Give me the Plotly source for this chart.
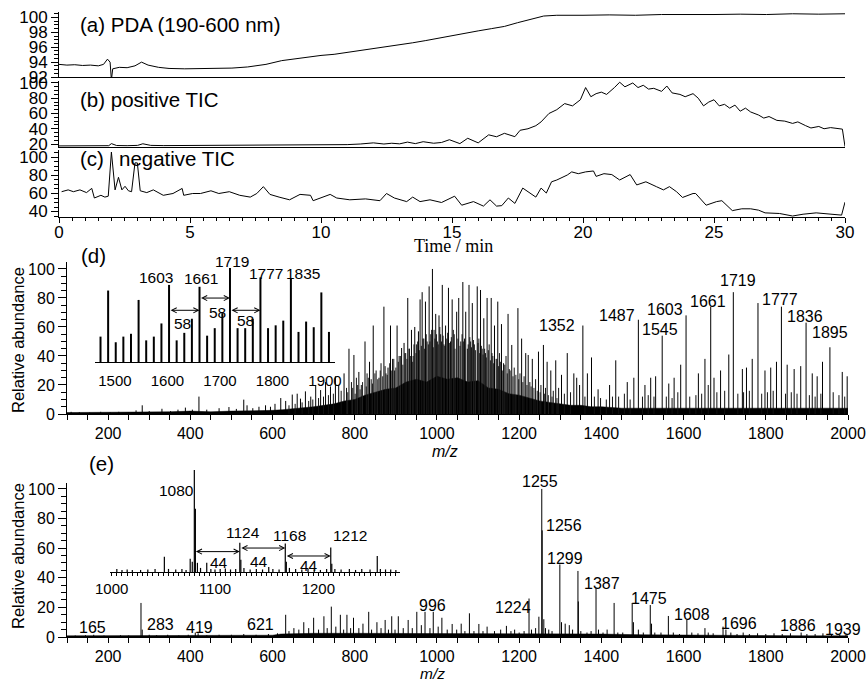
import plotly.graph_objects as go

W, H = 866, 682
FONT = "Liberation Sans, Arial, sans-serif"
SERIF = "Liberation Serif, Times New Roman, serif"

# ---------------- (a) PDA ----------------
pda_t = [0.0, 0.3, 0.6, 0.9, 1.2, 1.5, 1.7, 1.85, 1.95, 2.0,
         2.05, 2.3, 2.6, 2.9, 3.15, 3.4, 3.8, 4.2, 4.8, 5.4,
         6.0, 6.6, 7.2, 7.9, 8.5, 9.1, 9.6, 10.0, 10.5, 11.0,
         11.5, 12.0, 12.5, 13.0, 13.5, 14.0, 14.5, 15.0, 15.5, 16.0,
         16.5, 17.0, 17.5, 18.0, 18.5, 19.0, 19.5, 20.0, 21.0, 22.0,
         23.0, 24.0, 25.0, 26.0, 27.0, 28.0, 29.0, 30.0]
pda_v = [93.7, 93.6, 93.65, 93.55, 93.6, 93.5, 93.7, 94.4, 94.0, 91.6,
         93.1, 93.3, 93.25, 93.5, 94.0, 93.6, 93.3, 93.15, 93.1, 93.15,
         93.1, 93.2, 93.35, 93.7, 94.2, 94.5, 94.7, 94.9, 95.05, 95.3,
         95.5, 95.8, 96.05, 96.3, 96.6, 96.9, 97.25, 97.6, 97.9, 98.2,
         98.5, 98.8, 99.3, 99.8, 100.2, 100.3, 100.25, 100.3, 100.35, 100.3,
         100.4, 100.35, 100.4, 100.45, 100.4, 100.5, 100.45, 100.5]

# ---------------- (b) positive TIC ----------------
pos_t = [0.0, 0.5, 1.0, 1.5, 1.9, 2.0, 2.2, 2.6, 3.0, 3.2,
         3.5, 4.0, 4.5, 5.0, 5.5, 6.0, 6.5, 7.0, 7.5, 8.0,
         8.4, 9.0, 9.5, 10.0, 10.5, 11.0, 11.5, 12.0, 12.4, 12.7,
         13.0, 13.3, 13.6, 13.9, 14.3, 14.6, 14.9, 15.3, 15.6, 16.0,
         16.4, 16.7, 17.0, 17.4, 17.6, 17.9, 18.2, 18.4, 18.7, 19.0,
         19.3, 19.6, 19.9, 20.1, 20.3, 20.5, 20.7, 20.9, 21.2, 21.4,
         21.6, 21.9, 22.1, 22.3, 22.5, 22.7, 23.0, 23.2, 23.4, 23.7,
         23.9, 24.2, 24.4, 24.6, 24.8, 25.0, 25.2, 25.4, 25.6, 25.8,
         26.0, 26.2, 26.4, 26.7, 26.9, 27.1, 27.4, 27.7, 28.0, 28.2,
         28.5, 28.7, 29.0, 29.2, 29.45, 29.7, 29.9, 30.0]
pos_v = [17.5, 17.6, 17.4, 17.6, 17.8, 20.5, 18.0, 17.8, 18.2, 20.3,
         18.2, 17.9, 18.0, 17.8, 18.1, 18.0, 18.3, 18.1, 18.4, 18.3,
         18.7, 18.5, 19.2, 18.8, 19.5, 19.2, 20.0, 21.5, 20.0, 21.0,
         20.2, 22.5, 20.5, 23.0, 21.0, 22.0, 25.6, 20.5, 27.5, 21.5,
         32.0, 29.5, 34.0, 29.6, 38.0, 40.0, 44.0, 49.0, 60.0, 65.0,
         73.0, 70.0, 78.0, 94.0, 82.0, 86.0, 88.0, 85.0, 94.0, 101.0,
         95.0, 100.0, 94.0, 97.0, 92.0, 93.0, 89.0, 96.0, 87.0, 85.0,
         82.0, 86.0, 80.0, 70.0, 75.0, 78.0, 70.0, 72.0, 67.0, 71.0,
         63.0, 67.0, 62.0, 58.0, 54.0, 56.0, 51.0, 50.0, 47.0, 49.0,
         44.0, 41.0, 43.0, 40.0, 41.5, 40.0, 39.5, 16.5]

# ---------------- (c) negative TIC ----------------
neg_t = [0.1, 0.35, 0.55, 0.8, 1.05, 1.25, 1.35, 1.6, 1.75, 1.88,
         2.0, 2.14, 2.27, 2.4, 2.52, 2.65, 2.77, 2.9, 2.99, 3.1,
         3.35, 3.6, 3.98, 4.35, 4.7, 4.76, 5.1, 5.4, 5.8, 6.1,
         6.5, 6.9, 7.3, 7.55, 7.8, 8.05, 8.4, 8.8, 9.2, 9.6,
         9.7, 10.1, 10.35, 10.6, 11.1, 11.7, 12.25, 12.5, 12.8, 13.27,
         13.5, 13.78, 14.16, 14.6, 15.1, 15.37, 15.82, 16.2, 16.45, 16.7,
         16.9, 17.15, 17.4, 17.7, 17.98, 18.2, 18.4, 18.6, 18.8, 19.0,
         19.4, 19.57, 19.82, 20.1, 20.4, 20.5, 20.8, 21.1, 21.4, 21.8,
         22.05, 22.4, 22.8, 23.07, 23.3, 23.57, 23.8, 24.2, 24.3, 24.7,
         25.1, 25.3, 25.7, 26.06, 26.4, 26.7, 26.95, 27.5, 28.0, 28.4,
         28.9, 29.4, 29.87, 30.0]
neg_v = [62, 64, 62, 64, 61, 65.7, 55, 58, 56, 57,
         106, 64, 78, 64, 68, 63, 62, 94, 94, 63,
         61, 64, 58, 60, 65.6, 58, 60, 60, 63, 60,
         62, 58, 56, 60, 67.6, 59, 56, 53, 59, 58,
         52, 56, 59, 55, 53, 54, 52, 60, 55, 51,
         56, 51, 53, 50, 57, 47, 51, 46, 53, 46,
         46.5, 55, 49, 66, 60.5, 56, 66, 60.5, 73, 75,
         80.5, 84, 82, 84, 85, 79, 82, 81, 75, 81,
         69.5, 73, 67.6, 64, 67.6, 62, 55.6, 60, 60, 47,
         51, 52, 41, 43, 43, 41.5, 38.5, 37.8, 35, 37,
         38.5, 37, 36, 50.4]

# ---------------- (d) positive mass spectrum ----------------
d_mz = [110, 130, 155, 182, 205, 226, 250, 268, 283, 300,
        331, 352, 370, 388, 405, 421, 440, 470, 494, 512,
        530, 538, 552, 567, 583, 595, 606, 620, 632, 648,
        660, 668, 680, 693, 705, 717, 729, 741, 753, 761,
        774, 786, 798, 810, 825, 836, 845, 859, 871, 881,
        887, 903, 914, 920, 929, 938, 946, 955, 959, 964,
        972, 981, 989, 997, 1005, 1013, 1021, 1028, 1037, 1048,
        1053, 1063, 1070, 1078, 1086, 1098, 1106, 1114, 1122, 1132,
        1140, 1148, 1157, 1173, 1182, 1197, 1206, 1216, 1222, 1232,
        1247, 1259, 1268, 1277, 1289, 1303, 1317, 1333, 1340, 1347,
        1355, 1366, 1376, 1392, 1420, 1435, 1463, 1479, 1490, 1506,
        1520, 1532, 1548, 1564, 1577, 1593, 1606, 1636, 1652, 1666,
        1674, 1690, 1710, 1721, 1743, 1753, 1767, 1781, 1798, 1812,
        1826, 1838, 1852, 1869, 1885, 1898, 1913, 1925, 1938, 1956,
        1986, 1998]
d_int = [1.5, 1.2, 1, 1.5, 1.2, 1.5, 1, 2.5, 6, 2,
         3.6, 2, 3, 4.4, 3, 12, 3, 4, 4.8, 3.5,
         9.9, 6, 4, 5, 6, 5, 7, 11, 9, 13.4,
         14, 10.6, 15.6, 12, 20, 16.5, 22, 19, 26, 20,
         28, 45, 40.7, 29, 50, 36, 61, 25, 74, 32,
         61, 61, 45.5, 49, 80, 58, 60, 57, 79, 84,
         77.5, 88, 100, 69, 68, 89, 61, 87, 79, 70.5,
         80, 91, 70.5, 89, 76.5, 88, 85.5, 66, 80, 80,
         61, 77.5, 62, 69, 47.6, 73, 52, 42, 40.7, 38,
         43, 47.6, 36, 30, 37, 27, 42, 28, 25, 20,
         61, 28, 39, 17, 20, 37, 22, 25, 65, 20,
         25, 26, 54, 21, 25, 34, 68, 28, 38, 74,
         25, 30, 41, 84, 31, 32, 38, 76.5, 30, 32,
         36, 74, 34, 31, 33, 63, 28, 26, 36, 46,
         29, 26]
d_minor_mz = [640, 655, 672, 688, 698, 712, 724, 736, 748, 767,
              780, 792, 804, 816, 830, 840, 852, 864, 876, 892,
              897, 908, 924, 933, 942, 950, 968, 976, 985, 993,
              1001, 1009, 1017, 1024, 1033, 1042, 1058, 1067, 1074, 1082,
              1091, 1102, 1110, 1118, 1127, 1136, 1144, 1152, 1162, 1168,
              1178, 1188, 1202, 1212, 1226, 1240, 1253, 1264, 1283, 1296,
              1310, 1325, 1360, 1383, 1398, 1412, 1427, 1442, 1456, 1470,
              1500, 1514, 1528, 1558, 1572, 1586, 1615, 1630, 1644, 1660,
              1681, 1700, 1732, 1746, 1760, 1790, 1804, 1818, 1848, 1862,
              1876, 1906, 1920, 1934, 1964, 1978, 1992]
d_minor_int = [6, 7, 8, 9, 10, 11, 12, 13, 14, 16,
               18, 22, 25, 20, 28, 24, 30, 35, 28, 38,
               30, 40, 42, 45, 40, 48, 52, 50, 55, 58,
               50, 55, 48, 52, 50, 55, 50, 52, 45, 50,
               48, 52, 45, 42, 48, 40, 38, 42, 35, 40,
               30, 32, 28, 26, 22, 24, 20, 18, 16, 18,
               14, 15, 12, 12, 11, 10, 12, 12, 14, 10,
               12, 13, 12, 12, 11, 15, 12, 13, 14, 20,
               15, 16, 14, 15, 16, 14, 15, 16, 14, 15,
               14, 13, 12, 14, 15, 13, 12]
d_extra_mz = [783, 795, 801, 807, 813, 819, 828, 833, 843, 849,
              856, 862, 868, 874, 879, 885, 890, 895, 900, 906,
              911, 917, 922, 927, 932, 936, 941, 944, 949, 953,
              957, 962, 966, 970, 974, 979, 983, 987, 991, 995,
              999, 1003, 1007, 1011, 1015, 1019, 1026, 1031, 1035, 1040,
              1044, 1051, 1056, 1061, 1065, 1076, 1080, 1084, 1089, 1094,
              1100, 1104, 1108, 1112, 1116, 1120, 1125, 1130, 1134, 1138,
              1146, 1150, 1155, 1160, 1165, 1171, 1176, 1185, 1192, 1199,
              1209, 1219, 1229, 1236, 1244, 1251, 1262, 1271, 1280, 1292]
d_extra_int = [15, 18, 14, 20, 17, 22, 19, 25, 21, 28,
               24, 30, 26, 33, 27, 35, 30, 38, 32, 36,
               40, 34, 42, 38, 45, 40, 36, 48, 42, 50,
               44, 47, 52, 45, 55, 48, 50, 58, 46, 52,
               55, 48, 60, 50, 54, 47, 56, 49, 53, 58,
               45, 52, 47, 55, 50, 48, 53, 46, 51, 44,
               49, 42, 47, 41, 45, 39, 44, 37, 42, 35,
               38, 33, 36, 30, 34, 28, 31, 26, 27, 24,
               22, 20, 19, 18, 16, 15, 14, 13, 12, 11]
d_env_mz = [100, 150, 200, 250, 300, 350, 400, 450, 500, 550,
            600, 625, 650, 675, 700, 725, 750, 775, 800,
            825, 850, 875, 900, 925, 950, 975, 1000, 1025, 1050,
            1075, 1100, 1125, 1150, 1175, 1200, 1225, 1250, 1275, 1300,
            1325, 1350, 1375, 1400,
            1450, 1500, 1550, 1600, 1650, 1700, 1750, 1800, 1850, 1900, 1950, 2000]
d_env_int = [1, 1, 1, 1, 1.5, 1.5, 2, 1.5, 2, 2,
             2.5, 3, 3.5, 4, 5, 6, 7, 9, 10,
             13, 15, 17, 18, 22, 24, 22, 26, 24, 25,
             22, 23, 18, 17, 14, 13, 11, 9, 8, 7,
             6, 6, 5, 5,
             4, 4, 4, 4, 4, 4, 4, 4, 4, 4, 4, 4]
# inset of (d)
d_ins_mz = [1472.5, 1487, 1501.5, 1516, 1530.5, 1545, 1559.5, 1574, 1588.5, 1603,
            1617.5, 1632, 1646.5, 1661, 1675.5, 1690, 1704.5, 1719, 1733.5, 1748,
            1762.5, 1777, 1791.5, 1806, 1820.5, 1835, 1849.5, 1864, 1878.5, 1893, 1907.5]
d_ins_int = [27, 76, 21, 27, 30, 66, 23, 27, 41, 82,
             23, 31, 46, 80, 28, 36, 52, 100, 36, 36,
             46, 90, 36, 39, 44, 89, 32, 43, 37, 74, 32]
d_arrow_from = [1603, 1661, 1719]
d_arrow_to = [1661, 1719, 1777]
d_arrow_level = [55, 68, 55]

# ---------------- (e) negative mass spectrum ----------------
e_mz = [120, 145, 165, 190, 230, 250, 280, 283, 300, 318,
        345, 372, 395, 412, 419, 440, 470, 500, 530, 560,
        590, 612, 632, 640, 652, 664, 676, 688, 700, 712,
        725, 733, 743, 754, 765, 773, 781, 790, 797, 810,
        820, 834, 841, 854, 864, 874, 882, 890, 898, 906,
        918, 930, 940, 951, 962, 971, 983, 991, 1003, 1012,
        1025, 1037, 1048, 1059, 1068, 1079, 1090, 1102, 1112, 1122,
        1140, 1155, 1169, 1180, 1189, 1200, 1212, 1224, 1230, 1240,
        1248, 1255, 1256, 1260, 1264, 1272, 1280, 1299, 1303, 1312,
        1322, 1330, 1343, 1344, 1350, 1365, 1375, 1387, 1393, 1404,
        1414, 1431, 1440, 1452, 1475, 1478, 1490, 1502, 1519, 1522,
        1530, 1545, 1563, 1575, 1590, 1608, 1620, 1635, 1652, 1660,
        1672, 1696, 1703, 1715, 1730, 1745, 1760, 1780, 1800, 1820,
        1840, 1860, 1886, 1900, 1920, 1939, 1960, 1980, 1995]
e_int = [1, 1.2, 1.5, 1, 1.2, 1, 23, 5, 1.5, 1.2,
         1.5, 1, 1.5, 3, 2.5, 1.2, 1.5, 1.5, 2, 1.5,
         2, 2.5, 15, 4, 6, 5, 10, 6, 13, 5,
         14, 6, 20.5, 7, 15, 5, 15, 6, 13, 6,
         9, 17, 5, 10, 6, 11.5, 5, 14, 5, 14,
         6, 11.5, 6, 17, 8, 17, 6, 17, 7, 13,
         5, 8.8, 5, 9, 4, 16, 4, 8.8, 4, 7,
         4, 5, 7.5, 4, 5, 3, 4, 26, 5, 6,
         13.7, 100, 72, 12, 6, 5, 4, 49, 10, 9,
         8, 5, 44.6, 24, 4, 3, 4, 33, 5, 3,
         5, 23, 3, 3, 23, 10, 5, 3, 21.6, 9,
         3, 3, 14.2, 3, 2, 11.5, 3, 2.5, 6, 3,
         2.5, 7, 5, 3, 2, 3, 2, 2.5, 2, 2.5,
         2, 2.5, 3, 2, 2, 2.5, 1.5, 1.5, 1.5]
e_env_mz = [100, 200, 300, 400, 500, 600, 620, 700, 800, 900,
            1000, 1100, 1200, 1300, 1400, 1500, 1600, 1700, 1800, 1900, 2000]
e_env_int = [0.8, 0.8, 1, 1, 1, 1.2, 2, 2.5, 2.5, 2.5,
             2.5, 2, 2, 2.5, 2, 1.5, 1.2, 1, 1, 0.8, 0.8]
# inset of (e)
e_ins_mz = [1005, 1010, 1015, 1020, 1028, 1035, 1042, 1051, 1055, 1062,
            1068, 1072, 1076, 1078, 1080, 1081, 1083, 1086, 1092, 1096,
            1100, 1105, 1110, 1115, 1120, 1124, 1125, 1128, 1134, 1140,
            1146, 1152, 1156, 1162, 1168, 1169, 1172, 1178, 1184, 1190,
            1196, 1202, 1208, 1212, 1213, 1216, 1222, 1230, 1236, 1242,
            1250, 1257, 1260, 1265, 1270, 1275]
e_ins_int = [3, 2, 2.5, 2, 2, 2.5, 3, 15, 3, 2.5,
             3, 2, 13, 10, 100, 62, 9, 4, 9, 3,
             2.5, 3, 3.5, 2.5, 3, 28.7, 12, 4, 2.5, 3,
             2.5, 5, 3, 2.5, 28, 10, 4, 3, 2.5, 3,
             2.5, 2, 3, 24, 8, 3, 2.5, 3, 2, 3,
             2.5, 15.7, 3, 2.5, 2.5, 2]
e_arrow_from = [1080, 1124, 1168]
e_arrow_to = [1124, 1168, 1212]
e_arrow_level = [20, 23.5, 15.7]

# ---------------- text labels (layout, pixel positions) ----------------
d_lbl = ["1352", "1487", "1545", "1603", "1661", "1719", "1777", "1836", "1895"]
d_lbl_pos = [(557, 325), (617, 315), (660, 329), (665, 309), (708, 301),
             (738, 280), (780, 299), (805, 316), (830, 332)]
d_ins_lbl = ["1603", "1661", "1719", "1777", "1835"]
d_ins_lbl_pos = [(156, 277), (201, 278), (232, 261), (266, 273), (303, 273)]
d_gap_lbl_pos = [(182, 323), (217, 312), (245, 320)]
e_lbl = ["1255", "1256", "1299", "1387", "1475", "1608", "1696", "1886", "1939",
         "1224", "996", "621", "419", "283", "165"]
e_lbl_pos = [(540, 481), (564, 525), (565, 558), (602, 583), (649, 598), (692, 614),
             (739, 623), (798, 625), (843, 629), (513, 607), (432, 605), (260, 624),
             (199, 627), (160, 624), (92, 627)]
e_ins_lbl = ["1080", "1124", "1168", "1212"]
e_ins_lbl_pos = [(176, 490), (243, 532), (289, 535), (350, 535)]
e_gap_lbl_pos = [(219, 562), (259, 561), (309, 565)]


def fx(p):
    return p / W


def fy(p):
    return 1 - p / H


def sticks(mz, h):
    xs, ys = [], []
    for m, v in zip(mz, h):
        xs += [m, m, None]
        ys += [0, v, None]
    return xs, ys


fig = go.Figure()
line_k = dict(color="black", width=1)

fig.add_trace(go.Scatter(x=pda_t, y=pda_v, mode="lines", line=line_k, xaxis="x", yaxis="y"))
fig.add_trace(go.Scatter(x=pos_t, y=pos_v, mode="lines", line=line_k, xaxis="x2", yaxis="y2"))
fig.add_trace(go.Scatter(x=neg_t, y=neg_v, mode="lines", line=line_k, xaxis="x3", yaxis="y3"))

# (d)
fig.add_trace(go.Scatter(x=d_env_mz, y=d_env_int, mode="lines", fill="tozeroy",
                         fillcolor="black", line=dict(color="black", width=0.5),
                         xaxis="x4", yaxis="y4"))
for mzs, hs, col in [(d_extra_mz, d_extra_int, "#222"), (d_minor_mz, d_minor_int, "#111"),
                     (d_mz, d_int, "black")]:
    sx, sy = sticks(mzs, hs)
    fig.add_trace(go.Scatter(x=sx, y=sy, mode="lines", line=dict(color=col, width=1),
                             xaxis="x4", yaxis="y4"))
sx, sy = sticks(d_ins_mz, d_ins_int)
fig.add_trace(go.Scatter(x=sx, y=sy, mode="lines", line=dict(color="black", width=2),
                         xaxis="x6", yaxis="y6"))

# (e)
fig.add_trace(go.Scatter(x=e_env_mz, y=e_env_int, mode="lines", fill="tozeroy",
                         fillcolor="black", line=dict(color="black", width=0.5),
                         xaxis="x5", yaxis="y5"))
sx, sy = sticks(e_mz, e_int)
fig.add_trace(go.Scatter(x=sx, y=sy, mode="lines", line=dict(color="black", width=1),
                         xaxis="x5", yaxis="y5"))
sx, sy = sticks(e_ins_mz, e_ins_int)
fig.add_trace(go.Scatter(x=sx, y=sy, mode="lines", line=dict(color="black", width=1.2),
                         xaxis="x7", yaxis="y7"))

top_font = dict(family=FONT, size=17, color="black")
bot_font = dict(family=FONT, size=16, color="black")
ins_font = dict(family=FONT, size=15, color="black")
base = dict(showgrid=False, zeroline=False, showline=True, linecolor="black",
            linewidth=1, tickcolor="black", tickwidth=1, automargin=False,
            ticklabeloverflow="allow")

top_dom = [fx(59), fx(845)]


def minor(dt, ln):
    return dict(ticks="outside", ticklen=ln, dtick=dt, tickcolor="black", showgrid=False)


layout = dict(
    width=W, height=H, autosize=False, showlegend=False, hovermode=False,
    margin=dict(l=0, r=0, t=0, b=0, pad=0, autoexpand=False),
    paper_bgcolor="white", plot_bgcolor="rgba(0,0,0,0)",
    xaxis=dict(base, domain=top_dom, range=[0, 30], anchor="y", ticks="", showticklabels=False),
    yaxis=dict(base, domain=[fy(77), fy(12)], range=[92, 100.74], anchor="x",
               ticks="outside", ticklen=7, tickmode="linear", tick0=92, dtick=2,
               minor=minor(0.5, 4), tickfont=top_font),
    xaxis2=dict(base, domain=top_dom, range=[0, 30], anchor="y2", ticks="", showticklabels=False),
    yaxis2=dict(base, domain=[fy(147), fy(81)], range=[16.07, 102.6], anchor="x2",
                ticks="outside", ticklen=7, tickmode="linear", tick0=20, dtick=20,
                minor=minor(5, 4), tickfont=top_font),
    xaxis3=dict(base, domain=top_dom, range=[0, 30], anchor="y3", ticks="outside",
                ticklen=5, tickmode="linear", tick0=0, dtick=5, minor=minor(0.5, 3),
                tickfont=top_font, ticklabelstandoff=-5),
    yaxis3=dict(base, domain=[fy(217), fy(150)], range=[33.9, 108.3], anchor="x3",
                ticks="outside", ticklen=7, tickmode="linear", tick0=40, dtick=20,
                minor=minor(5, 4), tickfont=top_font),
    xaxis4=dict(base, domain=[fx(67), fx(848)], range=[100, 2000], anchor="y4",
                ticks="outside", ticklen=5, tickmode="linear", tick0=200, dtick=200,
                minor=minor(50, 5), tickfont=bot_font),
    yaxis4=dict(base, domain=[fy(414), fy(262)], range=[0, 104.8], anchor="x4",
                ticks="outside", ticklen=8, tickmode="linear", tick0=0, dtick=20,
                minor=minor(5, 5), tickfont=bot_font),
    xaxis5=dict(base, domain=[fx(67), fx(848)], range=[100, 2000], anchor="y5",
                ticks="outside", ticklen=5, tickmode="linear", tick0=200, dtick=200,
                minor=minor(50, 5), tickfont=bot_font),
    yaxis5=dict(base, domain=[fy(637), fy(483)], range=[0, 104], anchor="x5",
                ticks="outside", ticklen=8, tickmode="linear", tick0=0, dtick=20,
                minor=minor(5, 5), tickfont=bot_font),
    xaxis6=dict(base, domain=[fx(95), fx(335)], range=[1462, 1919], anchor="y6",
                ticks="", tickmode="linear", tick0=1500, dtick=100, ticklabelstandoff=5,
                tickfont=ins_font),
    yaxis6=dict(domain=[fy(362), fy(266)], range=[0, 102.1], anchor="x6", visible=False,
                showgrid=False, zeroline=False, automargin=False),
    xaxis7=dict(base, domain=[fx(110), fx(400)], range=[998.4, 1279], anchor="y7",
                ticks="outside", ticklen=3, tickmode="linear", tick0=1000, dtick=100,
                minor=minor(5, 3), tickfont=ins_font),
    yaxis7=dict(domain=[fy(572), fy(468)], range=[0, 102], anchor="x7", visible=False,
                showgrid=False, zeroline=False, automargin=False),
)
fig.update_layout(**layout)

ann = []


def txt(text, px, py, size=16, anchor="center", family=FONT, angle=0, italic=False):
    ann.append(dict(text=text, x=fx(px), y=fy(py), xref="paper", yref="paper",
                    xanchor=anchor, yanchor="middle", showarrow=False, textangle=angle,
                    font=dict(family=family, size=size, color="black",
                              style="italic" if italic else "normal")))


txt("(a) PDA (190-600 nm)", 78, 25, 20.5, "left")
txt("(b) positive TIC", 78, 100, 20.5, "left")
txt("(c)", 78, 158, 20.5, "left")
txt("negative TIC", 117, 158, 20.5, "left")
txt("(d)", 79, 255, 20.5, "left")
txt("(e)", 87, 464, 20.5, "left")
txt("Time / min", 453, 246, 18, family=SERIF)
txt("m/z", 445, 451, 16, italic=True)
txt("m/z", 432, 673, 15.5, italic=True)
txt("Relative abundance", 18, 340, 16.5, angle=-90)
txt("Relative abundance", 18, 556, 16.5, angle=-90)

for t, (px, py) in zip(d_lbl, d_lbl_pos):
    txt(t, px, py)
for t, (px, py) in zip(d_ins_lbl, d_ins_lbl_pos):
    txt(t, px, py, 15.5)
for px, py in d_gap_lbl_pos:
    txt("58", px, py, 15.5)
for t, (px, py) in zip(e_lbl, e_lbl_pos):
    txt(t, px, py)
for t, (px, py) in zip(e_ins_lbl, e_ins_lbl_pos):
    txt(t, px, py, 15.5)
for px, py in e_gap_lbl_pos:
    txt("44", px, py, 15.5)

for a, b, lv in zip(d_arrow_from, d_arrow_to, d_arrow_level):
    ann.append(dict(text="", x=b, y=lv, ax=a, ay=lv, xref="x6", yref="y6",
                    axref="x6", ayref="y6", showarrow=True, arrowhead=5,
                    startarrowhead=5, arrowside="end+start", arrowsize=1,
                    startarrowsize=1, arrowwidth=1, arrowcolor="black",
                    standoff=0, startstandoff=0))
for a, b, lv in zip(e_arrow_from, e_arrow_to, e_arrow_level):
    ann.append(dict(text="", x=b, y=lv, ax=a, ay=lv, xref="x7", yref="y7",
                    axref="x7", ayref="y7", showarrow=True, arrowhead=5,
                    startarrowhead=5, arrowside="end+start", arrowsize=1,
                    startarrowsize=1, arrowwidth=1, arrowcolor="black",
                    standoff=0, startstandoff=0))

fig.update_layout(annotations=ann)
# remove the browser's default 8 px page margin so the figure fills the window exactly
fig.write_html("out.html", config={"displayModeBar": False, "staticPlot": True},
               post_script="document.body.style.margin='0px';document.body.style.overflow='hidden';")
